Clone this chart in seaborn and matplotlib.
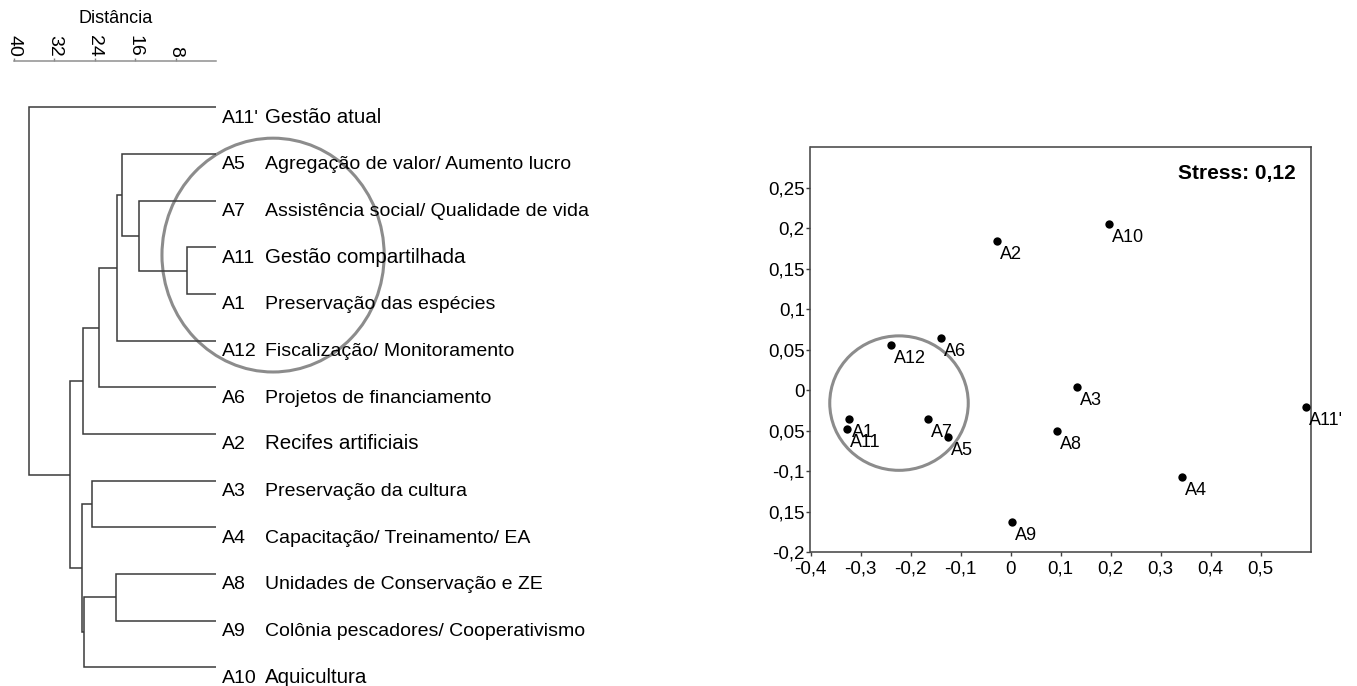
import numpy as np
import pandas as pd
import matplotlib
matplotlib.use("Agg")
import matplotlib.pyplot as plt
import seaborn as sns
from matplotlib.patches import Ellipse

sns.set_style("white")
plt.rcParams["font.family"] = ["Liberation Sans", "DejaVu Sans"]
plt.rcParams["axes.unicode_minus"] = False
plt.rcParams["text.color"] = "black"
plt.rcParams["xtick.color"] = "black"
plt.rcParams["ytick.color"] = "black"
plt.rcParams["axes.labelcolor"] = "black"

# ---- dendrogram data -------------------------------------------------------
leaf_codes = ["A11'", "A5", "A7", "A11", "A1", "A12", "A6", "A2",
              "A3", "A4", "A8", "A9", "A10"]
leaf_names = ["Gestão atual",
              "Agregação de valor/ Aumento lucro",
              "Assistência social/ Qualidade de vida",
              "Gestão compartilhada",
              "Preservação das espécies",
              "Fiscalização/ Monitoramento",
              "Projetos de financiamento",
              "Recifes artificiais",
              "Preservação da cultura",
              "Capacitação/ Treinamento/ EA",
              "Unidades de Conservação e ZE",
              "Colônia pescadores/ Cooperativismo",
              "Aquicultura"]
leaf_large = [True, False, False, True, False, False, False, True,
              False, False, False, False, True]

# merges: N0, N1, ... in order; each joins two leaves / earlier nodes
merge_left = ["A11", "A7", "A5", "N2", "N3", "N4", "A3", "A8", "N7", "N6", "N5", "A11'"]
merge_right = ["A1", "N0", "N1", "A12", "A6", "A2", "A4", "A9", "A10", "N8", "N9", "N10"]
merge_height = [5.7, 15.3, 18.6, 19.7, 23.1, 26.4, 24.6, 19.9, 26.1, 26.5, 29.0, 37.0]

dist_ticks = [40, 32, 24, 16, 8]

# ---- MDS data --------------------------------------------------------------
mds_labels = ["A1", "A2", "A3", "A4", "A5", "A6", "A7", "A8", "A9", "A10", "A11", "A11'", "A12"]
mds_x = [-0.323, -0.027, 0.133, 0.343, -0.125, -0.139, -0.166, 0.093, 0.002, 0.197, -0.327, 0.591, -0.240]
mds_y = [-0.035, 0.184, 0.004, -0.107, -0.058, 0.065, -0.036, -0.050, -0.162, 0.205, -0.048, -0.021, 0.0555]
stress = "0,12"

x_ticks = [-0.4, -0.3, -0.2, -0.1, 0.0, 0.1, 0.2, 0.3, 0.4, 0.5]
x_ticklabels = ["-0,4", "-0,3", "-0,2", "-0,1", "0", "0,1", "0,2", "0,3", "0,4", "0,5"]
y_ticks = [-0.2, -0.15, -0.1, -0.05, 0.0, 0.05, 0.1, 0.15, 0.2, 0.25]
y_ticklabels = ["-0,2", "0,15", "-0,1", "0,05", "0", "0,05", "0,1", "0,15", "0,2", "0,25"]

# ---- figure ----------------------------------------------------------------
W, H = 1357, 686
fig = plt.figure(figsize=(W / 100, H / 100), dpi=100)


def px_axes(x0, y0, x1, y1):
    return fig.add_axes([x0 / W, 1 - y1 / H, (x1 - x0) / W, (y1 - y0) / H])


TREE_COLOR = "#3a3a3a"
RING_COLOR = "#8c8c8c"

# dendrogram panel
axd = px_axes(14, 60.7, 216, 680)
pos = {name: (0.0, float(i)) for i, name in enumerate(leaf_codes)}
for k, (a, b, h) in enumerate(zip(merge_left, merge_right, merge_height)):
    xa, ya = pos[a]
    xb, yb = pos[b]
    axd.plot([xa, h, h, xb], [ya, ya, yb, yb], color=TREE_COLOR, lw=1.1,
             solid_capstyle="butt", solid_joinstyle="miter")
    pos[f"N{k}"] = (h, (ya + yb) / 2)

axd.set_xlim(40, 0)
axd.set_ylim(12.27, -1)
axd.xaxis.tick_top()
axd.set_xticks(dist_ticks)
axd.set_xticklabels([str(t) for t in dist_ticks], rotation=270, fontsize=14)
axd.tick_params(axis="x", direction="out", length=2.2, width=1, color="#808080", pad=0.5)
axd.set_yticks([])
for side in ["left", "right", "bottom"]:
    axd.spines[side].set_visible(False)
axd.spines["top"].set_color("#909090")
axd.spines["top"].set_linewidth(1.1)

for i, (code, name, big) in enumerate(zip(leaf_codes, leaf_names, leaf_large)):
    axd.annotate(code, xy=(0, i), xytext=(6, -15.3), textcoords="offset pixels",
                 ha="left", va="baseline", fontsize=14, annotation_clip=False)
    axd.annotate(name, xy=(0, i), xytext=(49, -15.3), textcoords="offset pixels",
                 ha="left", va="baseline", fontsize=14.8 if big else 14,
                 annotation_clip=False)

axd.add_patch(Ellipse((-11.3, 3.165), width=44.0, height=5.01, fill=False,
                      edgecolor=RING_COLOR, lw=2.2, clip_on=False))

fig.text(116 / W, 1 - 22.7 / H, "Distância", ha="center", va="baseline", fontsize=13)

# MDS panel
axm = px_axes(810.5, 147.3, 1310.5, 552.3)
df = pd.DataFrame({"label": mds_labels, "x": mds_x, "y": mds_y})
sns.scatterplot(data=df, x="x", y="y", color="black", s=36, linewidth=0, ax=axm, zorder=3)
for _, r in df.iterrows():
    axm.annotate(r["label"], xy=(r["x"], r["y"]), xytext=(3, -18),
                 textcoords="offset pixels", ha="left", va="baseline",
                 fontsize=13, annotation_clip=False)

axm.add_patch(Ellipse((-0.223, -0.0158), width=0.277, height=0.166, fill=False,
                      edgecolor=RING_COLOR, lw=2.2, zorder=2))

axm.set_xlim(-0.4, 0.6)
axm.set_ylim(-0.2, 0.3)
axm.set_xticks(x_ticks)
axm.set_xticklabels(x_ticklabels)
axm.set_yticks(y_ticks)
axm.set_yticklabels(y_ticklabels)
axm.set_xlabel("")
axm.set_ylabel("")
axm.tick_params(direction="out", length=2.6, width=1, color="#404040",
                labelsize=13.5, pad=1.5, bottom=True, left=True)
axm.tick_params(axis="x", pad=3.5)
for s in axm.spines.values():
    s.set_color("#404040")
    s.set_linewidth(1.1)
axm.grid(False)

axm.text(0.970, 0.921, f"Stress: {stress}", transform=axm.transAxes,
         ha="right", va="baseline", fontsize=15, fontweight="bold")

fig.savefig("out.png", dpi=100)
